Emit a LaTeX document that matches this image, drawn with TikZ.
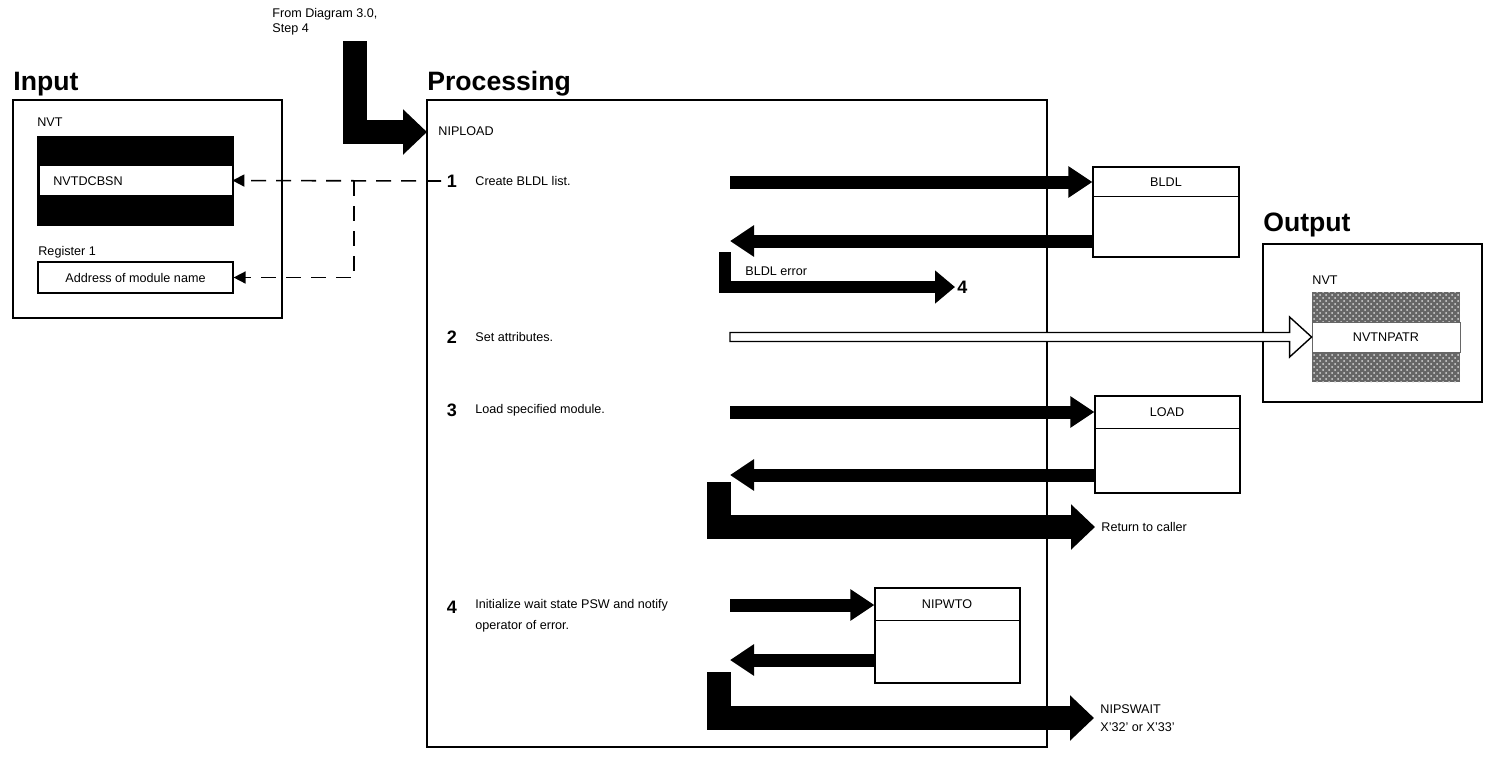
\documentclass[tikz,border=0pt]{standalone}
\usepackage{fontspec}
\setmainfont{Liberation Sans}
\usetikzlibrary{arrows.meta,fit,calc,patterns}

\tikzset{
  frame/.style={draw, line width=1pt, inner sep=0pt},
  modbox/.style={draw, line width=0.6pt, inner sep=0pt, fill=white},
  lbl/.style={font=\fontsize{6.3}{10.5}\selectfont, inner sep=0pt, anchor=west},
  heading/.style={font=\fontsize{13.3}{16}\selectfont\bfseries, inner sep=0pt, anchor=base west},
  stepnum/.style={font=\fontsize{9}{10}\selectfont\bfseries, inner sep=0pt},
  callarrow/.style={line width=6.5pt, -{Triangle[length=12pt,width=15pt]}},
  fatarrow/.style={line width=12pt, line join=miter, -{Triangle[length=12pt,width=22pt]}},
  errarrow/.style={line width=6pt, line join=miter, -{Triangle[length=10pt,width=16pt]}},
  dashline/.style={line width=0.8pt, dash pattern=on 7.5pt off 5pt, -{Triangle[length=6pt,width=6pt]}},
  hollow/.style={draw, fill=white, line width=0.7pt, line join=miter}
}

\begin{document}
\begin{tikzpicture}[x=0.5pt, y=-0.5pt]
    \useasboundingbox (0,0) rectangle (1485,757);

    % Input
    \node[heading] (inhd) at (13,90) {Input};
    \node[frame, fit={(13,100) (282,318)}] (inbox) {};
    \node[lbl] (nvtin) at (37,122) {NVT};
    \node[inner sep=0pt, fill=black, fit={(37,136) (234,226)}] (nvtblk) {};
    \node[inner sep=0pt, fill=white, fit={(40,166) (232,195)}] (dcbsn) {};
    \node[lbl] (dcbsntxt) at (53,181) {NVTDCBSN};
    \node[lbl] (reg1) at (38,252) {Register 1};
    \node[modbox, fit={(38,262) (233,293)}] (addr) {};
    \node[lbl, anchor=center] (addrtxt) at (addr.center) {Address of module name};

    % Processing
    \node[heading] (prochd) at (427,90) {Processing};
    \node[frame, fit={(427,100) (1047,747)}] (procbox) {};
    \node[lbl, anchor=north west, align=left, font=\fontsize{6.3}{7.6}\selectfont] (fromtxt) at (272,8) {From Diagram 3.0,\\Step 4};
    \coordinate (fromtop) at (354.5,41);
    \coordinate (fromend) at (427,132);
    \draw[fatarrow] (fromtop) |- (fromend);
    \node[lbl] (nipload) at (438,131) {NIPLOAD};

    % Steps
    \node[stepnum] (n1) at (452,181) {1};
    \node[lbl] (t1) at (475,181) {Create BLDL list.};
    \node[stepnum] (n2) at (452,337) {2};
    \node[lbl] (t2) at (475,337) {Set attributes.};
    \node[stepnum] (n3) at (452,410) {3};
    \node[lbl] (t3) at (475,410) {Load specified module.};
    \node[stepnum] (n4) at (452,607) {4};
    \node[lbl, align=left, anchor=north west] (t4) at (475,599) {Initialize wait state PSW and notify\\operator of error.};

    % Modules
    \node[modbox, fit={(1093,167) (1239,257)}] (bldl) {};
    \draw[line width=0.6pt] ($(bldl.north west)+(0,30)$) -- ($(bldl.north east)+(0,30)$);
    \node[lbl, anchor=center] (bldltxt) at (1166,182) {BLDL};

    \node[modbox, fit={(1095,396) (1240,493)}] (load) {};
    \draw[line width=0.6pt] ($(load.north west)+(0,33)$) -- ($(load.north east)+(0,33)$);
    \node[lbl, anchor=center] (loadtxt) at (1167,412) {LOAD};

    \node[modbox, fit={(875,588) (1020,683)}] (nipwto) {};
    \draw[line width=0.6pt] ($(nipwto.north west)+(0,33)$) -- ($(nipwto.north east)+(0,33)$);
    \node[lbl, anchor=center] (nipwtotxt) at (947,604) {NIPWTO};

    % Output
    \node[heading] (outhd) at (1263,231) {Output};
    \node[frame, fit={(1263,244) (1482,402)}] (outbox) {};
    \node[lbl] (nvtout) at (1312,280) {NVT};
    \node[inner sep=0pt, preaction={fill=black!60}, pattern=crosshatch dots, pattern color=white!85!black, fit={(1312,292) (1460,382)}] (nvttex) {};
    \node[inner sep=0pt, fill=white, draw=black!60, line width=0.4pt, fit={(1312,322) (1460,352)}] (nvtnpatr) {};
    \node[lbl, anchor=center] (nvtnpatrtxt) at (nvtnpatr.center) {NVTNPATR};

    % Step 1 connectors
    \coordinate (d1) at (441,181);
    \coordinate (tee) at (354,181);
    \draw[dashline] (d1) -- (dcbsn.east);
    \draw[dashline] (tee) |- (addr.east);
    \coordinate (c1) at (730,182);
    \draw[callarrow] (c1) -- (c1 -| bldl.west);
    \coordinate (r1) at (730,241);
    \draw[callarrow] (r1 -| bldl.west) -- (r1);
    \coordinate (e1) at (724.5,252);
    \coordinate (e1end) at (955,287);
    \draw[errarrow] (e1) |- (e1end);
    \node[lbl] (bldlerr) at (745,271) {BLDL error};
    \node[stepnum, anchor=west] (go4) at (957,287) {4};

    % Step 2 connector
    \coordinate (h2s) at (730,337);
    \draw[hollow] ($(h2s)+(0,-4.5)$) -- ($(nvtnpatr.west)+(-22,-4.5)$) -- ($(nvtnpatr.west)+(-22,-20)$)
        -- (nvtnpatr.west) -- ($(nvtnpatr.west)+(-22,20)$) -- ($(nvtnpatr.west)+(-22,4.5)$) -- ($(h2s)+(0,4.5)$) -- cycle;

    % Step 3 connectors
    \coordinate (c3) at (730,412);
    \draw[callarrow] (c3) -- (c3 -| load.west);
    \coordinate (r3) at (730,475);
    \draw[callarrow] (r3 -| load.west) -- (r3);
    \coordinate (ret) at (719,482);
    \coordinate (retend) at (1095,527);
    \draw[fatarrow] (ret) |- (retend);
    \node[lbl] (caller) at (1101,527) {Return to caller};

    % Step 4 connectors
    \coordinate (c4) at (730,605);
    \draw[callarrow] (c4) -- (c4 -| nipwto.west);
    \coordinate (r4) at (730,660);
    \draw[callarrow] (r4 -| nipwto.west) -- (r4);
    \coordinate (wt) at (719,672);
    \coordinate (wtend) at (1094,718);
    \draw[fatarrow] (wt) |- (wtend);
    \node[lbl, align=left, font=\fontsize{6.3}{9}\selectfont] (nipswait) at (1100,718) {NIPSWAIT\\X'32' or X'33'};
\end{tikzpicture}
\end{document}
